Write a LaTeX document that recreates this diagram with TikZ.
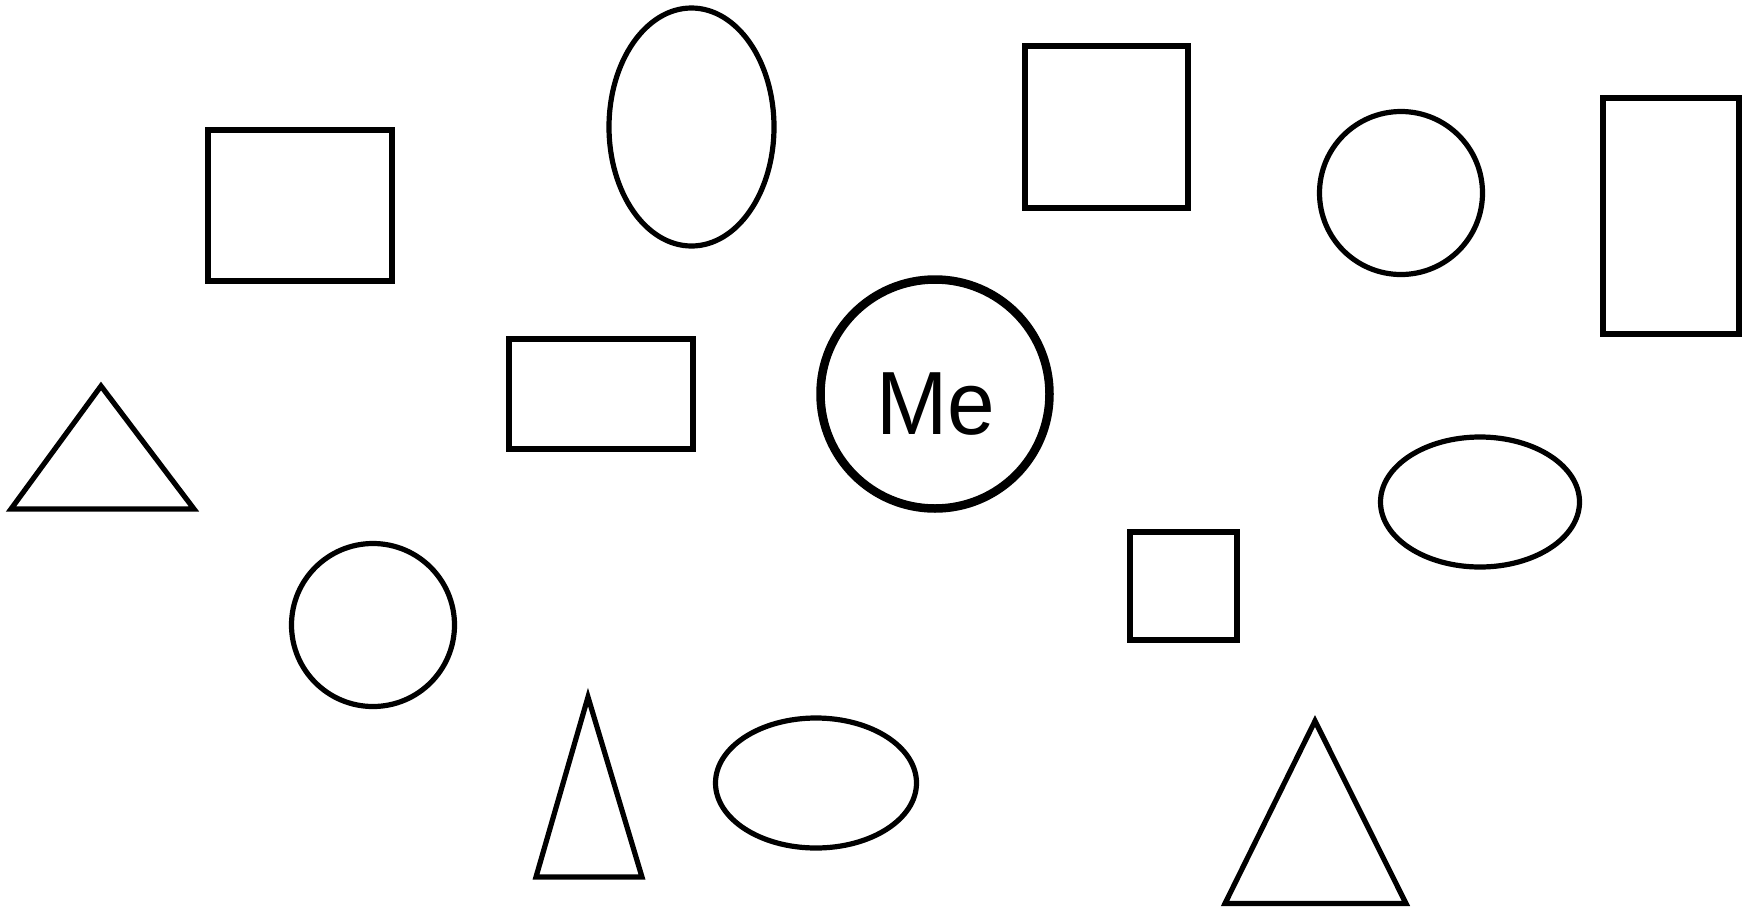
\documentclass[tikz,border=0pt]{standalone}
\usepackage{fontspec}
\setmainfont{Liberation Sans}
\tikzset{
  shp/.style={draw=black, line width=5.2pt, fill=none},
  meshp/.style={draw=black, line width=8.5pt, fill=none}
}
\begin{document}
\begin{tikzpicture}[x=1pt,y=-1pt]
\useasboundingbox (0,0) rectangle (1746,906);
% rectangles
\draw[shp] (208,130) rectangle (392,281);
\draw[shp] (1025,46) rectangle (1188,208);
\draw[shp] (1603,98) rectangle (1739,334);
\draw[shp] (509,339) rectangle (693,449);
\draw[shp] (1130,532) rectangle (1237,640);
% ellipses
\draw[shp] (691.5,127) ellipse [x radius=82.5, y radius=119];
\draw[shp] (1480,502) ellipse [x radius=99.5, y radius=65];
\draw[shp] (816,783) ellipse [x radius=100.5, y radius=65];
% circles
\draw[shp] (1401,193) circle [radius=81.5];
\draw[shp] (373,625) circle [radius=81.5];
% triangles
\draw[shp, line join=miter] (101,386) -- (194,509) -- (11,509) -- cycle;
\draw[shp, line join=miter] (588,697) -- (642,877) -- (536,877) -- cycle;
\draw[shp, line join=miter] (1315,721) -- (1406,903.5) -- (1225,903.5) -- cycle;
% Me
\node[meshp, circle, minimum size=229pt, inner sep=0pt] (me) at (935,394) {};
\node[anchor=base, inner sep=0pt] (metext) at (936,434) {\fontsize{89.8pt}{94pt}\selectfont\scalebox{0.953}[1]{Me}};
\end{tikzpicture}
\end{document}
